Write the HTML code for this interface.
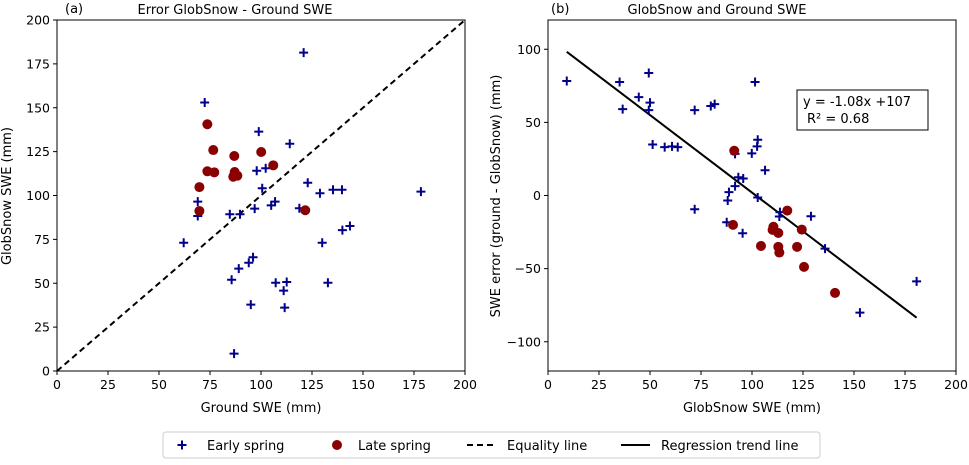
<!DOCTYPE html>
<html><head><meta charset="utf-8"><style>
body{margin:0;background:#fff;}
svg{font-family:"DejaVu Sans","Liberation Sans",sans-serif;}
</style></head><body>
<svg id="c" width="969" height="460" xmlns="http://www.w3.org/2000/svg"></svg>
<script>
// Panel (a) data: ground SWE vs GlobSnow SWE
const earlyAX=[62.1,69.0,69.0,72.4,84.7,89.7,85.6,86.8,89.1,94.0,96.1,95.0,96.9,97.9,98.9,102.3,100.6,105.0,106.9,107.2,112.6,111.1,111.6,114.1,118.8,120.9,122.9,128.9,130.0,132.8,135.3,139.7,139.9,143.6,178.4];
const earlyAY=[73.1,96.5,88.3,153.0,89.3,89.3,52.0,9.9,58.3,61.7,64.8,37.8,92.5,114.1,136.4,115.5,104.1,94.4,96.5,50.3,50.7,45.8,36.1,129.5,92.7,181.4,107.3,101.3,73.1,50.3,103.3,103.3,80.3,82.6,102.2];
const lateAX=[73.7,76.6,73.7,77.1,69.8,69.8,86.9,87.1,86.4,88.4,100.1,106.0,121.7];
const lateAY=[140.6,125.9,113.8,113.2,104.8,91.2,122.5,113.4,110.7,111.3,124.8,117.2,91.6];
// Panel (b) data: GlobSnow SWE vs error
const earlyBX=[9.2,35.1,49.4,36.6,44.5,50,49.4,51.3,57.2,60.8,63.6,71.9,79.8,81.7,71.9,101.5,102.8,102.5,99.9,91.7,106.4,93.3,95.7,91.7,88.7,88.1,102.8,87.6,95.4,113.4,113.7,128.9,135.8,152.9,180.7];
const earlyBY=[78.3,77.6,83.8,59.1,67.3,63.5,58.4,34.9,33.1,33.6,33.1,58.4,61.2,62.5,-9.4,77.6,38.1,33.6,28.8,28.5,17.3,12.5,11.6,6.4,2.3,-3.4,-1.4,-18.3,-25.8,-14.4,-11.4,-14.2,-36.3,-80.1,-58.7];
const lateBX=[91.3,90.7,117.3,110.5,110.1,112.9,124.4,104.4,112.9,113.4,122.1,125.5,140.7];
const lateBY=[30.6,-20.1,-10.3,-21.4,-23.5,-25.6,-23.3,-34.5,-35.1,-39.0,-35.1,-48.8,-66.6];
const regCoef=[-1.06,108];
const regRange=[9.2,180.7];
const xTicks=[0,25,50,75,100,125,150,175,200];
const yTicksA=[0,25,50,75,100,125,150,175,200];
const yTicksB=[-100,-50,0,50,100];

const NS="http://www.w3.org/2000/svg";
const svg=document.getElementById('c');
function el(t,a,p){const e=document.createElementNS(NS,t);for(const k in a)e.setAttribute(k,a[k]);(p||svg).appendChild(e);return e;}
function txt(s,a,p){const e=el('text',a,p);e.textContent=s;return e;}

function panel(L,R,T,B,ymin,ymax,yt,name){
  const g=el('g',{});
  
  
  const sx=v=>L+(v-0)/200*(R-L);
  const sy=v=>B-(v-ymin)/(ymax-ymin)*(B-T);
  xTicks.forEach(t=>{
    const l=el('line',{x1:sx(t),x2:sx(t),y1:B,y2:B+4,stroke:'#000'},g);
    
    const s=txt(t,{x:sx(t),y:B+18,'text-anchor':'middle','font-size':12.5},g);
    
  });
  yt.forEach(t=>{
    const l=el('line',{x1:L-4,x2:L,y1:sy(t),y2:sy(t),stroke:'#000'},g);
    
    const s=txt(t<0?'\u2212'+(-t):t,{x:L-7,y:sy(t)+4.5,'text-anchor':'end','font-size':12.5},g);
    
  });
  return {g,sx,sy};
}
function plus(g,x,y){
  const p=el('path',{d:`M${x-4.5},${y}H${x+4.5}M${x},${y-4.5}V${y+4.5}`,stroke:'#00008b','stroke-width':2},g);
  
}
function dot(g,x,y){
  const c=el('circle',{cx:x,cy:y,r:5,fill:'#8b0000'},g);
  
}

// Panel A
const A=panel(57,465,20,371,0,200,yTicksA,'panel-a');
const eq=el('line',{x1:A.sx(0),y1:A.sy(0),x2:A.sx(200),y2:A.sy(200),stroke:'#000','stroke-width':2,'stroke-dasharray':'6,4'},A.g);

earlyAX.forEach((v,i)=>plus(A.g,A.sx(v),A.sy(earlyAY[i])));
lateAX.forEach((v,i)=>dot(A.g,A.sx(v),A.sy(lateAY[i])));
const fa=el('rect',{x:57,y:20,width:408,height:351,fill:'none',stroke:'#000'},A.g);


// Panel B
const Bp=panel(548,956,20,371,-120,120,yTicksB,'panel-b');
const rl=el('line',{x1:Bp.sx(regRange[0]),y1:Bp.sy(regCoef[0]*regRange[0]+regCoef[1]),x2:Bp.sx(regRange[1]),y2:Bp.sy(regCoef[0]*regRange[1]+regCoef[1]),stroke:'#000','stroke-width':2},Bp.g);

earlyBX.forEach((v,i)=>plus(Bp.g,Bp.sx(v),Bp.sy(earlyBY[i])));
lateBX.forEach((v,i)=>dot(Bp.g,Bp.sx(v),Bp.sy(lateBY[i])));
const fb=el('rect',{x:548,y:20,width:408,height:351,fill:'none',stroke:'#000'},Bp.g);

</script>
<svg style="position:absolute;left:0;top:0" width="969" height="460" xmlns="http://www.w3.org/2000/svg" font-family="DejaVu Sans, Liberation Sans, sans-serif">
<text x="65" y="13" font-size="13">(a)</text>
<text x="235" y="14" font-size="13" text-anchor="middle">Error GlobSnow - Ground SWE</text>
<text x="551" y="13" font-size="13">(b)</text>
<text x="717" y="14" font-size="13" text-anchor="middle">GlobSnow and Ground SWE</text>
<text x="261" y="412" font-size="13" text-anchor="middle">Ground SWE (mm)</text>
<text x="752" y="412" font-size="13" text-anchor="middle">GlobSnow SWE (mm)</text>
<text transform="translate(11,196) rotate(-90)" font-size="13" text-anchor="middle">GlobSnow SWE (mm)</text>
<text transform="translate(500,196) rotate(-90)" font-size="13" text-anchor="middle">SWE error (ground - GlobSnow) (mm)</text>
<g>
<rect x="797" y="90" width="131" height="40" fill="#fff" stroke="#000"/>
<text x="803" y="106" font-size="13">y = -1.08x +107</text>
<text x="807" y="123" font-size="13">R² = 0.68</text>
</g>
<g>
<rect x="163" y="432" width="657" height="26" fill="#fff" stroke="#ccc" rx="3"/>
<g>
<path d="M177.5,445H186.5M182,440.5V449.5" stroke="#00008b" stroke-width="2"/>
<text x="207" y="450" font-size="13">Early spring</text></g>
<g>
<circle cx="337" cy="445" r="5" fill="#8b0000"/>
<text x="358" y="450" font-size="13">Late spring</text></g>
<g>
<line x1="467" y1="445" x2="496" y2="445" stroke="#000" stroke-width="2" stroke-dasharray="6,4"/>
<text x="507" y="450" font-size="13">Equality line</text></g>
<g>
<line x1="621" y1="445" x2="650" y2="445" stroke="#000" stroke-width="2"/>
<text x="661" y="450" font-size="13">Regression trend line</text></g>
</g>
</svg>
</body></html>
